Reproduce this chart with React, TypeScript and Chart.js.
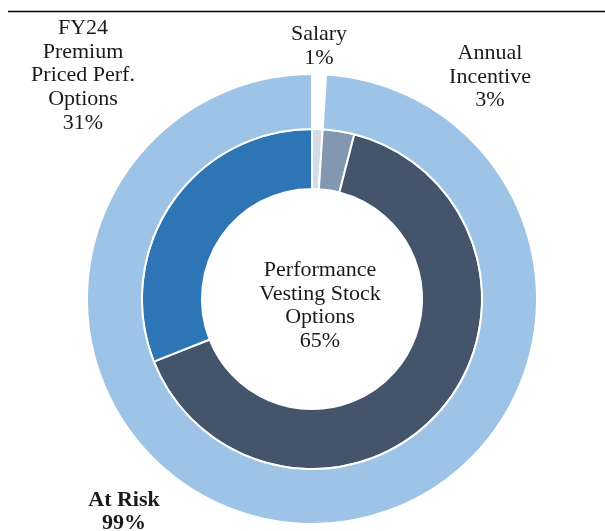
import React, { useEffect, useRef } from "react";
import { Chart, registerables } from "chart.js";

Chart.register(...registerables);

const categories = ["Salary", "Annual Incentive", "Performance Vesting Stock Options", "FY24 Premium Priced Perf. Options"];
const innerValues = [1, 3, 65, 31];
const outerCategories = ["Salary", "At Risk"];
const outerValues = [1, 99];

const innerColors = ["#D6DCE5", "#8497B0", "#44546A", "#2E75B6"];
const outerColors = ["#FFFFFF", "#9DC3E6"];

const labelLines: string[][] = [
  ["Salary", "1%"],
  ["Annual", "Incentive", "3%"],
  ["Performance", "Vesting Stock", "Options", "65%"],
  ["FY24", "Premium", "Priced Perf.", "Options", "31%"],
];
const atRiskLines = ["At Risk", "99%"];

// label anchors: [centerX, firstLineY] relative to page
const labelAnchors: [number, number][] = [
  [319, 34],
  [490, 53],
  [320, 270],
  [83, 28],
];

const W = 605;
const H = 531;

export default function App() {
  const ref = useRef<HTMLCanvasElement | null>(null);

  useEffect(() => {
    const canvas = ref.current;
    if (!canvas) return;
    const textPlugin = {
      id: "labels",
      afterDraw(chart: any) {
        const ctx = chart.ctx;
        ctx.save();
        // top rule
        ctx.strokeStyle = "#000000";
        ctx.lineWidth = 1.4;
        ctx.beginPath();
        ctx.moveTo(8, 11.5);
        ctx.lineTo(W, 11.5);
        ctx.stroke();

        ctx.fillStyle = "#1a1a1a";
        ctx.textAlign = "center";
        ctx.textBaseline = "middle";
        ctx.font = '22px "Liberation Serif"';
        const lh = 23.8;
        labelLines.forEach((lines, i) => {
          const [x, y] = labelAnchors[i];
          lines.forEach((t, j) => ctx.fillText(t, x, y + j * lh));
        });
        ctx.font = 'bold 22px "Liberation Serif"';
        atRiskLines.forEach((t, j) => ctx.fillText(t, 124, 500 + j * lh));
        ctx.restore();
      },
    };

    const chart = new Chart(canvas, {
      type: "doughnut",
      data: {
        labels: categories,
        datasets: [
          {
            label: "Outer",
            data: outerValues,
            backgroundColor: outerColors,
            borderColor: "#FFFFFF",
            borderWidth: 2,
            weight: 53,
          } as any,
          {
            label: "Inner",
            data: innerValues,
            backgroundColor: innerColors,
            borderColor: "#FFFFFF",
            borderWidth: 2,
            weight: 58,
          } as any,
        ],
      },
      options: {
        responsive: false,
        animation: false,
        radius: 225,
        cutout: 113,
        layout: { padding: { left: 19, right: 0, top: 67, bottom: 0 } },
        plugins: {
          legend: { display: false },
          tooltip: { enabled: false },
        },
      } as any,
      plugins: [textPlugin],
    });
    return () => chart.destroy();
  }, []);

  return (
    <div style={{ position: "fixed", left: 0, top: 0, width: W, height: H, background: "#FFFFFF" }}>
      <canvas ref={ref} width={W} height={H} style={{ width: W, height: H, display: "block" }} />
    </div>
  );
}
